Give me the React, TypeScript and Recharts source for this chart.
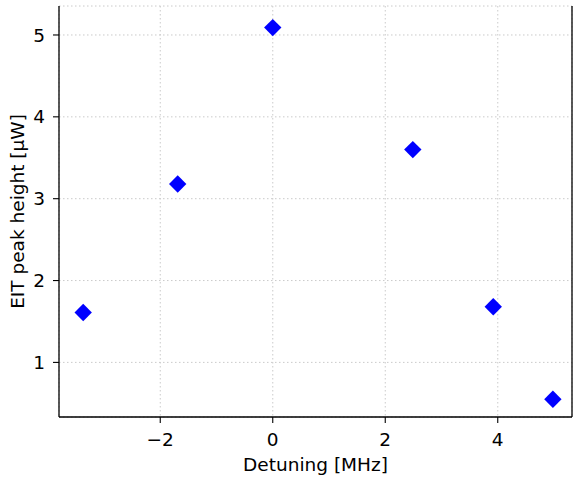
import React from 'react';
import { ScatterChart, Scatter, XAxis, YAxis, CartesianGrid } from 'recharts';

const detuning = [-3.37, -1.69, 0.0, 2.49, 3.92, 4.98];
const peakHeight = [1.61, 3.18, 5.09, 3.6, 1.68, 0.55];
const xTicks = [-2, 0, 2, 4];
const yTicks = [1, 2, 3, 4, 5];
const xDomain = [-3.8, 5.32];
const yDomain = [0.333, 5.354];

const data = detuning.map((x, i) => ({ x, y: peakHeight[i] }));

const FONT = 'DejaVu Sans';
const FS = 18.5;
const fmt = (v: number) => (v < 0 ? '\u2212' + Math.abs(v) : String(v));

const Diamond = (props: any) => {
  const { cx, cy } = props;
  const r = 8.7;
  return (
    <polygon
      points={`${cx},${cy - r} ${cx + r},${cy} ${cx},${cy + r} ${cx - r},${cy}`}
      fill="#0000ff"
    />
  );
};

const YLabel = (props: any) => {
  const vb = props.viewBox || {};
  const cy = (vb.y ?? 6) + (vb.height ?? 411) / 2;
  return (
    <text
      x={0}
      y={0}
      transform={`translate(24, ${cy}) rotate(-90)`}
      textAnchor="middle"
      fontFamily={FONT}
      fontSize={FS}
      fill="#000"
    >
      EIT peak height [μW]
    </text>
  );
};

const XLabel = (props: any) => {
  const vb = props.viewBox || {};
  const cx = (vb.x ?? 59) + (vb.width ?? 513) / 2;
  return (
    <text x={cx} y={471} textAnchor="middle" fontFamily={FONT} fontSize={FS} fill="#000">
      Detuning [MHz]
    </text>
  );
};

export default function App() {
  const tickStyle = { fontFamily: FONT, fontSize: FS, fill: '#000' };
  return (
    <div style={{ position: 'absolute', left: 0, top: 0, width: 573, height: 477, background: '#fff' }}>
      <ScatterChart width={573} height={477} margin={{ top: 6, right: 0, bottom: 0, left: 0 }}>
        <XAxis
          type="number"
          dataKey="x"
          xAxisId="main"
          domain={xDomain}
          ticks={xTicks}
          tickFormatter={fmt}
          allowDataOverflow
          height={60}
          tickSize={6}
          tickMargin={10}
          tick={tickStyle}
          axisLine={{ stroke: '#000', strokeWidth: 1.3 }}
          tickLine={{ stroke: '#000', strokeWidth: 1.1 }}
          label={<XLabel />}
        />
        <XAxis
          type="number"
          xAxisId="top"
          orientation="top"
          domain={xDomain}
          height={0}
          tick={false}
          tickLine={false}
          axisLine={{ stroke: '#000', strokeWidth: 1.3 }}
        />
        <YAxis
          type="number"
          dataKey="y"
          yAxisId="main"
          domain={yDomain}
          ticks={yTicks}
          allowDataOverflow
          width={59}
          tickSize={6}
          tickMargin={8}
          tick={tickStyle}
          axisLine={{ stroke: '#000', strokeWidth: 1.3 }}
          tickLine={{ stroke: '#000', strokeWidth: 1.1 }}
          label={<YLabel />}
        />
        <YAxis
          type="number"
          yAxisId="right"
          orientation="right"
          domain={yDomain}
          width={1}
          tick={false}
          tickLine={false}
          axisLine={{ stroke: '#000', strokeWidth: 1.3 }}
        />
        <CartesianGrid xAxisId="main" yAxisId="main" stroke="#c4c4c4" strokeDasharray="1.5 2.5" strokeWidth={0.9} />
        <Scatter
          data={data}
          xAxisId="main"
          yAxisId="main"
          shape={<Diamond />}
          isAnimationActive={false}
        />
      </ScatterChart>
    </div>
  );
}
